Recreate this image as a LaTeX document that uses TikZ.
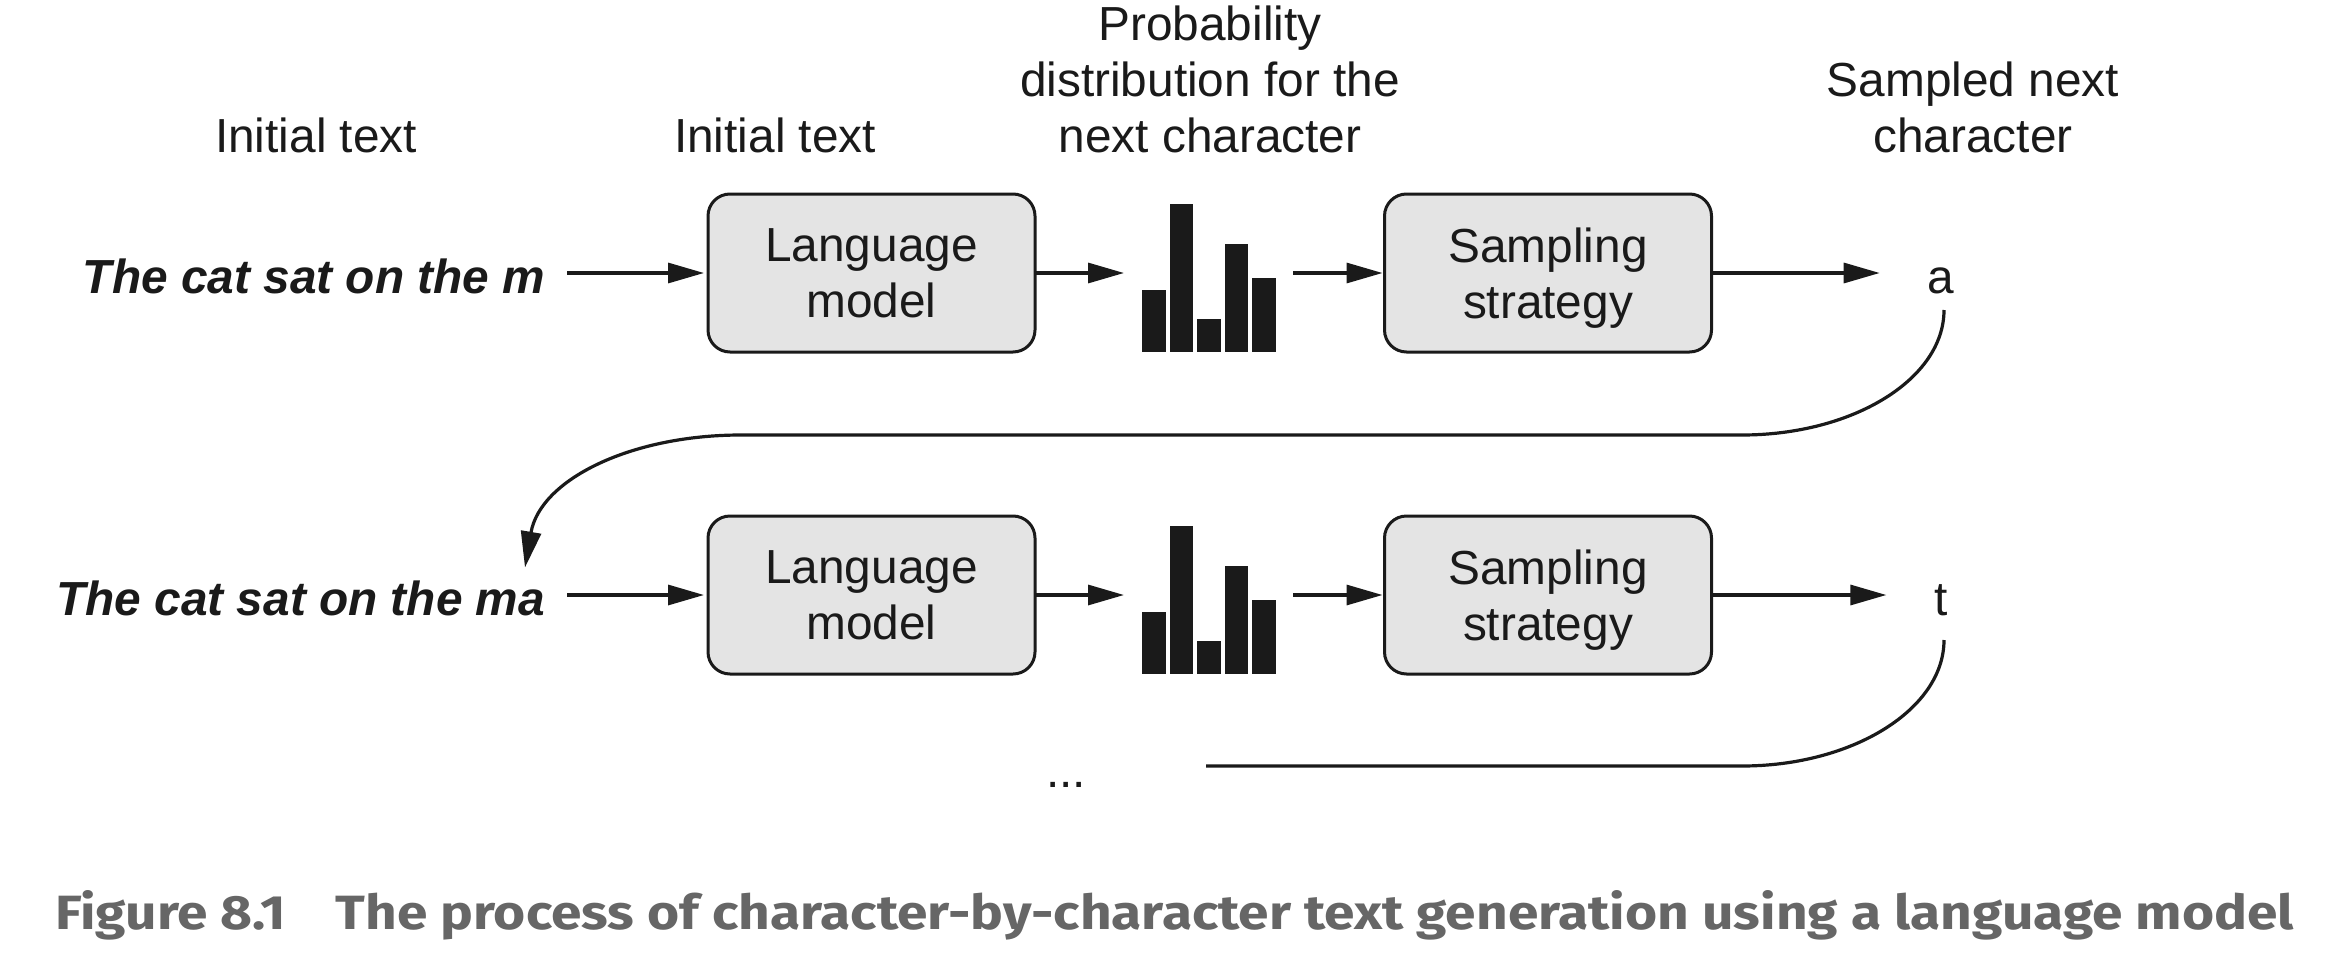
\documentclass[tikz,border=0pt]{standalone}
\usepackage{graphicx}
\usepackage{fontspec}
\setmainfont{Liberation Sans}
\newfontfamily\capfont{Fira Sans}
\usetikzlibrary{arrows.meta,calc}
\definecolor{ink}{HTML}{1A1A1A}
\definecolor{boxfill}{HTML}{E4E4E4}
\definecolor{capgrey}{HTML}{666666}
\begin{document}
\begin{tikzpicture}[x=1pt,y=-1pt,
  every node/.style={inner sep=0pt, outer sep=0pt, text=ink},
  mainfont/.style={font=\fontsize{47.8}{56}\selectfont},
  box/.style={draw=ink, fill=boxfill, line width=3pt, rounded corners=22pt, minimum width=327pt, minimum height=158pt, align=center, mainfont},
  lbl/.style={align=center, mainfont},
  seq/.style={font=\fontsize{47.8}{56}\selectfont\bfseries\itshape},
  arr/.style={draw=ink, line width=3.2pt, -{Triangle[length=36pt,width=20pt]}},
  conn/.style={draw=ink, line width=3.2pt},
  barsbox/.style={minimum width=134pt, minimum height=149pt},
  bar/.style={fill=ink},
]
\fill[white] (0,0) rectangle (2328,974);
\useasboundingbox (0,0) rectangle (2328,974);

% headers
\node[lbl] (h1) at (316,135) {Initial text};
\node[lbl] (h2) at (775,135) {Initial text};
\node[lbl] (h3) at (1210,79.5) {Probability\\distribution for the\\next character};
\node[lbl] (h4) at (1973,107) {Sampled next\\character};

% row 1
\node[seq, anchor=east] (txt1) at (545,276) {The cat sat on the m};
\node[box] (box1) at (871.5,273) {Language\\model};
\node[barsbox] (bars1) at (1209,277.5) {};
\node[box] (box2) at (1548,273) {Sampling\\\raisebox{0pt}[\height][0pt]{strategy}};
\node[mainfont, anchor=base] (achar) at (1941,293) {a};

% row 2
\node[seq, anchor=east] (txt2) at (545,598) {The cat sat on the ma};
\node[box] (box3) at (871.5,595) {Language\\model};
\node[barsbox] (bars2) at (1209,599.5) {};
\node[box] (box4) at (1548,595) {Sampling\\\raisebox{0pt}[\height][0pt]{strategy}};
\node[mainfont, anchor=base] (tchar) at (1941,615) {t};

\node[mainfont, anchor=base] (dots) at (1066,787) {...};
\coordinate (loopend) at (1206,766);

% bars
\foreach \h [count=\i from 0] in {62,148,33,108,74} {
  \fill[bar] ($(bars1.south west)+(\i*27.5,0)$) rectangle ++(23.5,-\h);
  \fill[bar] ($(bars2.south west)+(\i*27.5,0)$) rectangle ++(23.5,-\h);
}

% row 1 arrows
\draw[arr, shorten <=22pt, shorten >=4pt] (txt1.east |- box1.west) -- (box1.west);
\draw[arr, shorten >=18pt] (box1.east) -- (bars1.west |- box1.east);
\draw[arr, shorten <=17pt, shorten >=2pt] (bars1.east |- box2.west) -- (box2.west);
\draw[arr, shorten >=48pt] (box2.east) -- (achar.west |- box2.east);

% row 2 arrows
\draw[arr, shorten <=22pt, shorten >=4pt] (txt2.east |- box3.west) -- (box3.west);
\draw[arr, shorten >=18pt] (box3.east) -- (bars2.west |- box3.east);
\draw[arr, shorten <=17pt, shorten >=2pt] (bars2.east |- box4.west) -- (box4.west);
\draw[arr, shorten >=48pt] (box4.east) -- (tchar.west |- box4.east);

% feedback loop
\draw[arr] ($(achar.base)+(3,17)$) .. controls +(0,69) and +(111,0) .. (1742,435)
  -- (741,435) .. controls (630,435) and (540,480) .. ($(txt2.north east)+(-20,-13)$);
\draw[conn] ($(tchar.base)+(3,25)$) .. controls +(0,69) and +(111,0) .. (1742,766)
  -- (loopend);

% caption
\node[anchor=base west, text=capgrey] (cap) at (55,929) {\resizebox{2239pt}{39pt}{\capfont\bfseries Figure 8.1\hspace{0.9em}The process of character-by-character text generation using a language model}};
\end{tikzpicture}
\end{document}
